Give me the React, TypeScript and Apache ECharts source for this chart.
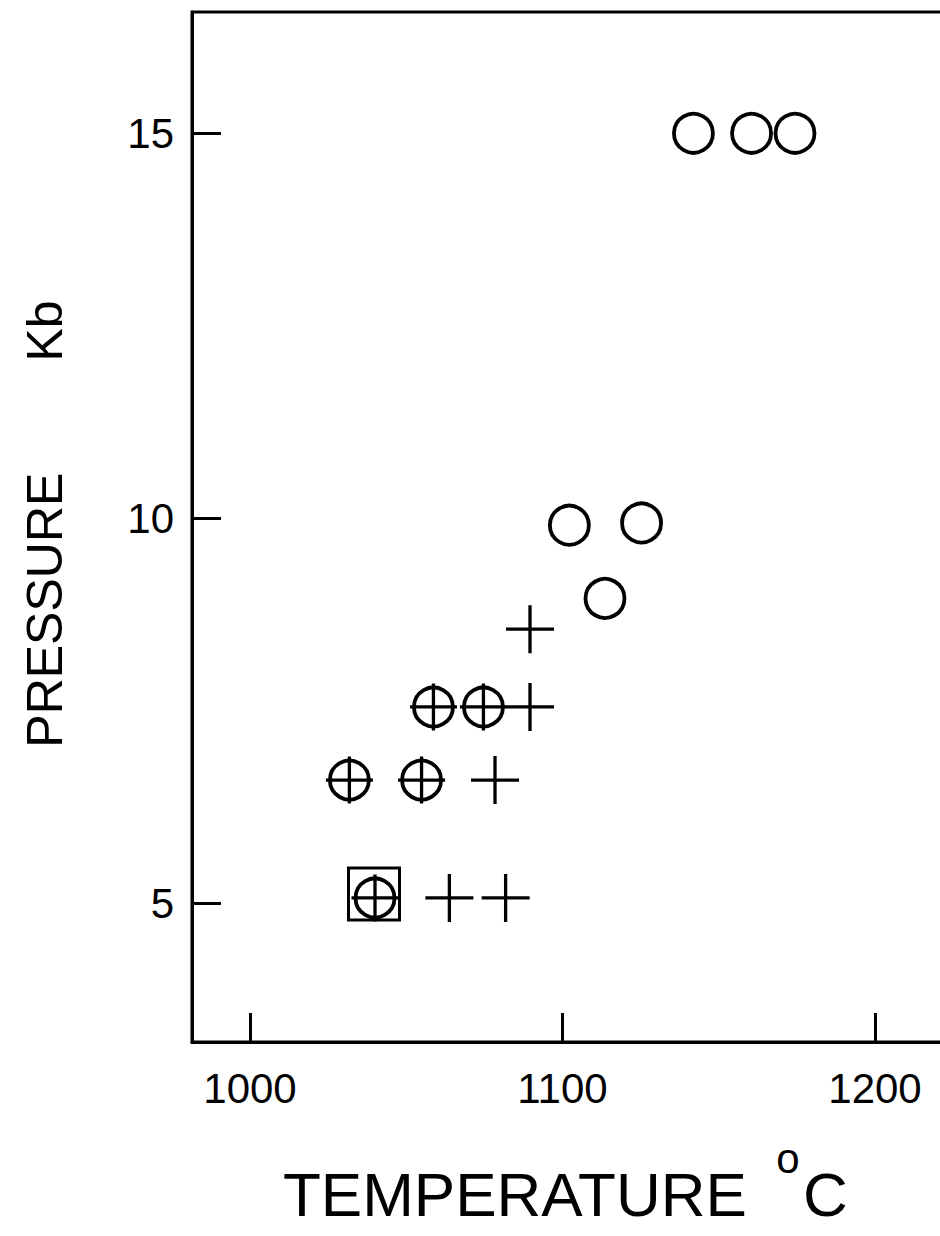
import React, { useEffect, useRef } from "react";
import * as echarts from "echarts";

// Temperature (°C), Pressure (Kb)
const openCircles: [number, number][] = [
  [1141.9, 15.0],
  [1160.5, 15.0],
  [1174.4, 15.0],
  [1102.2, 9.91],
  [1125.3, 9.94],
  [1113.6, 8.96],
];
const crosses: [number, number][] = [
  [1089.6, 8.56],
  [1089.6, 7.55],
  [1078.4, 6.6],
  [1063.8, 5.07],
  [1081.8, 5.07],
];
const circledCrosses: [number, number][] = [
  [1058.7, 7.55],
  [1074.7, 7.55],
  [1031.8, 6.6],
  [1054.9, 6.6],
  [1040.0, 5.07],
];
const boxedPoints: [number, number][] = [[1040.0, 5.07]];

const xTicks = [1000, 1100, 1200];
const yTicks = [5, 10, 15];
const xTitle = "TEMPERATURE";
const yTitle = "PRESSURE        Kb";

const FONT = "'Liberation Sans', Arial, Helvetica, sans-serif";
const PLUS = "path://M10,0 L10,20 M0,10 L20,10";

export default function App() {
  const ref = useRef<HTMLDivElement>(null);
  useEffect(() => {
    if (!ref.current) return;
    const chart = echarts.init(ref.current, undefined, { renderer: "svg" });
    const axisCommon = {
      axisLine: { show: true, lineStyle: { color: "#000", width: 3 } },
      axisTick: { show: true, inside: true, length: 29, lineStyle: { color: "#000", width: 3 } },
      splitLine: { show: false },
    };
    const symStyle = (w: number) => ({
      color: "rgba(0,0,0,0)",
      borderColor: "#000",
      borderWidth: w,
      opacity: 1,
    });
    chart.setOption({
      animation: false,
      backgroundColor: "#fff",
      grid: {
        left: 192,
        top: 12,
        width: 780,
        height: 1030,
        outerBoundsMode: "none",
        containLabel: false,
        show: true,
        borderColor: "#000",
        borderWidth: 3,
        backgroundColor: "transparent",
      },
      xAxis: {
        type: "value",
        min: 981.44,
        max: 1231.04,
        ...axisCommon,
        axisTick: { ...axisCommon.axisTick, customValues: xTicks },
        axisLabel: {
          customValues: xTicks,
          formatter: (v: number) => String(v),
          color: "#000",
          fontSize: 42,
          fontFamily: FONT,
          margin: 25,
        },
      },
      yAxis: {
        type: "value",
        min: 3.199,
        max: 16.575,
        ...axisCommon,
        axisTick: { ...axisCommon.axisTick, customValues: yTicks },
        axisLabel: {
          customValues: yTicks,
          formatter: (v: number) => String(v),
          color: "#000",
          fontSize: 42,
          fontFamily: FONT,
          margin: 18,
        },
      },
      graphic: [
        {
          type: "text",
          x: 45,
          y: 524,
          rotation: Math.PI / 2,
          style: {
            text: yTitle,
            fontSize: 50,
            fontFamily: FONT,
            fill: "#000",
            align: "center",
            verticalAlign: "middle",
          },
        },
        {
          type: "text",
          x: 283,
          y: 1194,
          style: {
            text: xTitle,
            fontSize: 62,
            fontFamily: FONT,
            fill: "#000",
            align: "left",
            verticalAlign: "middle",
          },
        },
        {
          type: "text",
          x: 788,
          y: 1158,
          style: {
            text: "o",
            fontSize: 42,
            fontFamily: FONT,
            fill: "#000",
            align: "center",
            verticalAlign: "middle",
          },
        },
        {
          type: "text",
          x: 803,
          y: 1194,
          style: {
            text: "C",
            fontSize: 62,
            fontFamily: FONT,
            fill: "#000",
            align: "left",
            verticalAlign: "middle",
          },
        },
      ],
      series: [
        {
          type: "scatter",
          data: boxedPoints,
          symbol: "rect",
          symbolSize: [51, 52],
          symbolOffset: [-1, -4],
          itemStyle: symStyle(3),
          z: 2,
        },
        {
          type: "scatter",
          data: openCircles,
          symbol: "circle",
          symbolSize: 39,
          itemStyle: symStyle(3.8),
          z: 3,
        },
        {
          type: "scatter",
          data: circledCrosses,
          symbol: "circle",
          symbolSize: 39,
          itemStyle: symStyle(3.8),
          z: 3,
        },
        {
          type: "scatter",
          data: circledCrosses,
          symbol: PLUS,
          symbolSize: 47,
          itemStyle: symStyle(3.3),
          z: 4,
        },
        {
          type: "scatter",
          data: crosses,
          symbol: PLUS,
          symbolSize: 48,
          itemStyle: symStyle(3.3),
          z: 4,
        },
      ],
    });
    return () => chart.dispose();
  }, []);
  return (
    <div
      ref={ref}
      style={{ position: "absolute", left: 0, top: 0, width: 940, height: 1236, overflow: "hidden" }}
    />
  );
}
